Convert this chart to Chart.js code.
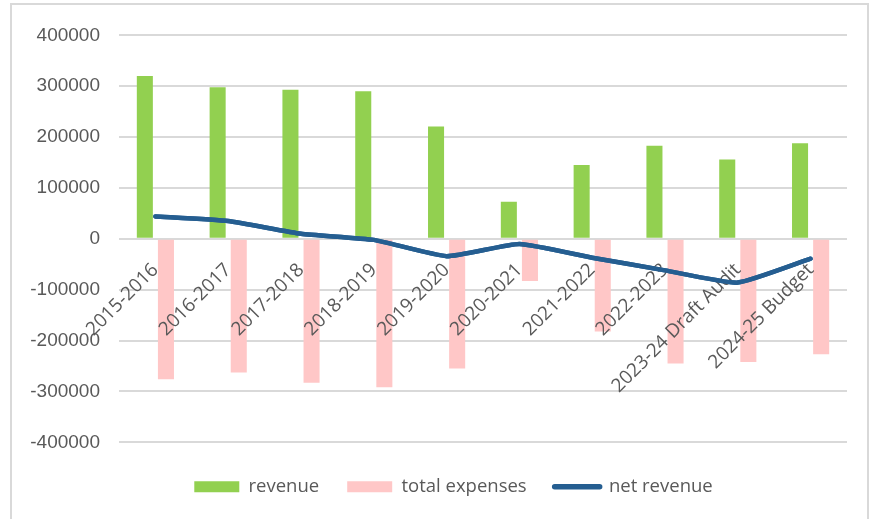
<!DOCTYPE html>
<html>
<head>
<meta charset="utf-8">
<script src="https://cdn.jsdelivr.net/npm/chart.js@4"></script>
<style>
  body { margin: 0; background: #fff; }
  #frame {
    position: absolute; left: 10px; top: 3px;
    width: 855px; height: 530px;
    border: 2px solid #d9d9d9;
  }
</style>
</head>
<body>
<div id="frame"><canvas id="chart" width="855" height="530"></canvas></div>
<script>
const years = ["2015-2016", "2016-2017", "2017-2018", "2018-2019", "2019-2020",
  "2020-2021", "2021-2022", "2022-2023", "2023-24 Draft Audit", "2024-25 Budget"];
const revenue = [320000, 298000, 293000, 290000, 221000, 73000, 145000, 183000, 156000, 188000];
const totalExpenses = [-276000, -263000, -283000, -292000, -255000, -83000, -182000, -245000, -242000, -227000];
const netRevenue = [44000, 35000, 10000, -2000, -34000, -10000, -37000, -62000, -86000, -39000];

const gray = "#595959";
const blue = "#255e91";

// labels sit above the bars but under the net revenue line, so redraw the line last
const lineOnTop = {
  id: "lineOnTop",
  afterLayout(chart) {
    // legend in the original is centred a bit right of the canvas middle
    chart.legend.left += 24;
    chart.legend.right += 24;
  },
  afterDraw(chart) {
    const meta = chart.getDatasetMeta(2);
    const a = chart.chartArea;
    chart.ctx.save();
    chart.ctx.beginPath();
    chart.ctx.rect(a.left, a.top, a.right - a.left, a.bottom - a.top);
    chart.ctx.clip();
    meta.controller.draw();
    chart.ctx.restore();
  }
};

const ctx = document.getElementById("chart").getContext("2d");
new Chart(ctx, {
  data: {
    labels: years,
    datasets: [
      {
        type: "bar",
        label: "revenue",
        data: revenue,
        backgroundColor: "#92d050",
        categoryPercentage: 0.58,
        barPercentage: 0.76,
        order: 2
      },
      {
        type: "bar",
        label: "total expenses",
        data: totalExpenses,
        backgroundColor: "#ffc7c7",
        categoryPercentage: 0.58,
        barPercentage: 0.76,
        order: 2
      },
      {
        type: "line",
        label: "net revenue",
        data: netRevenue,
        borderColor: blue,
        backgroundColor: blue,
        borderWidth: 4.5,
        pointRadius: 0,
        tension: 0.15,
        borderCapStyle: "round",
        order: 1
      }
    ]
  },
  options: {
    responsive: false,
    animation: false,
    layout: { padding: { top: 21.7, right: 20, left: 0, bottom: 29 } },
    scales: {
      x: {
        position: { y: 0 },
        grid: { display: false, drawTicks: false },
        border: { display: false },
        ticks: {
          z: 1,
          color: gray,
          font: { family: "Open Sans", size: 19 },
          minRotation: 45,
          maxRotation: 45,
          padding: 20
        }
      },
      y: {
        min: -400000,
        max: 400000,
        afterFit: (scale) => { scale.width = 107; },
        grid: { color: "#d9d9d9", lineWidth: 2, drawTicks: false },
        border: { display: false },
        ticks: {
          stepSize: 100000,
          color: gray,
          padding: 19,
          font: { family: "Liberation Sans", size: 19 },
          callback: (v) => String(v)
        }
      }
    },
    plugins: {
      tooltip: { enabled: false },
      legend: {
        position: "bottom",
        title: { display: true, text: "", font: { size: 1 }, padding: { top: 0, bottom: 6 } },
        labels: {
          color: gray,
          font: { family: "Open Sans", size: 18.5 },
          usePointStyle: true,
          pointStyleWidth: 45,
          boxHeight: 11,
          padding: 28,
          sort: (a, b) => a.datasetIndex - b.datasetIndex,
          generateLabels: (chart) => {
            const items = Chart.defaults.plugins.legend.labels.generateLabels(chart);
            items.forEach((it) => {
              if (it.datasetIndex === 2) {
                it.pointStyle = "line";
                it.lineWidth = 5.5;
                it.lineCap = "round";
                it.strokeStyle = blue;
              } else {
                it.pointStyle = "rect";
                it.lineWidth = 0;
              }
            });
            return items;
          }
        }
      }
    }
  },
  plugins: [lineOnTop]
});
</script>
</body>
</html>
